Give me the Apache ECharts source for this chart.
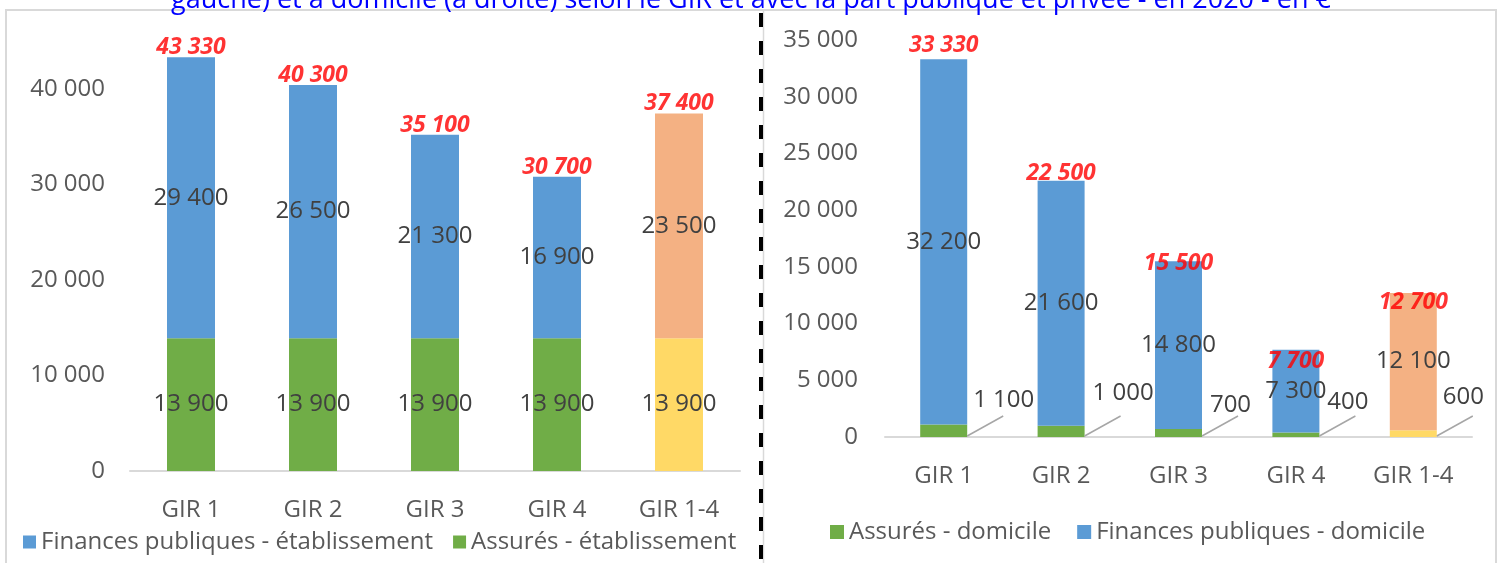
<!DOCTYPE html>
<html>
<head>
<meta charset="utf-8">
<script src="https://cdn.jsdelivr.net/npm/echarts@6/dist/echarts.min.js"></script>
<style>
  html, body { margin: 0; padding: 0; background: #fff; }
  #main { width: 1502px; height: 563px; }
</style>
</head>
<body>
<div id="main"></div>
<script>
// categories (same on both sides)
var categories = ['GIR 1', 'GIR 2', 'GIR 3', 'GIR 4', 'GIR 1-4']

// left : établissement
var etabAssures = [13900, 13900, 13900, 13900, 13900]
var etabPublic = [29400, 26500, 21300, 16900, 23500]
var etabTotal = [43330, 40300, 35100, 30700, 37400]

// right : domicile
var domAssures = [1100, 1000, 700, 400, 600]
var domPublic = [32200, 21600, 14800, 7300, 12100]
var domTotal = [33330, 22500, 15500, 7700, 12700]

var titleText = 'gauche) et à domicile (à droite) selon le GIR et avec la part publique et privée - en 2020 - en €'

var FONT = 'Open Sans'
var BLUE = '#5b9bd5'
var GREEN = '#70ad47'
var ORANGE = '#f4b183'
var YELLOW = '#ffd966'

function fmt(v) {
  return String(v).replace(/\B(?=(\d{3})+(?!\d))/g, ' ')
}

// last category (GIR 1-4) gets its own colours
function colored(values, lastColor) {
  return values.map(function (v, i) {
    if (i == values.length - 1) {
      return { value: v, itemStyle: { color: lastColor } }
    }
    return v
  })
}

var chart = echarts.init(document.getElementById('main'))

var axisLabelStyle = { color: '#595959', fontSize: 24, fontFamily: FONT }
var segLabel = { show: true, position: 'inside', color: '#404040', fontSize: 24, fontFamily: FONT, formatter: function (p) { return fmt(p.value) } }
var totalLabel = { show: true, position: 'top', distance: -2, color: '#ff0000', fontSize: 23, fontWeight: 'bold', fontStyle: 'italic', fontFamily: FONT, formatter: function (p) { return fmt(p.value) } }

// right totals and small labels were moved by hand in the original
var domTotalShift = [-3, 2, 12, 22, 20]
var domLabelShift = [[60, -31], [62, -38], [52, -28], [52, -33], [50, -36]]
var BAR_R = 47

// leader lines for the small "assurés - domicile" values
function renderLeader(params, api) {
  var base = api.coord([api.value(0), 0])
  var x0 = base[0] + BAR_R / 2
  var y0 = base[1] - 1
  return {
    type: 'line',
    shape: { x1: x0, y1: y0, x2: x0 + 36, y2: y0 - 20 },
    style: { stroke: '#a6a6a6', lineWidth: 1.5 }
  }
}

var option = {
  animation: false,
  title: {
    text: titleText,
    left: 'center',
    top: -18,
    textStyle: { color: '#0000ff', fontSize: 27, fontWeight: 'normal', fontFamily: FONT }
  },
  legend: [{
    data: ['Finances publiques - établissement', 'Assurés - établissement'],
    left: 18,
    top: 525,
    icon: 'rect',
    itemWidth: 13,
    itemHeight: 13,
    itemGap: 20,
    textStyle: axisLabelStyle
  }, {
    data: ['Assurés - domicile', 'Finances publiques - domicile'],
    left: 825,
    top: 515,
    icon: 'rect',
    itemWidth: 14,
    itemHeight: 14,
    itemGap: 26,
    textStyle: axisLabelStyle
  }],
  grid: [
    { left: 130, right: 762, top: 41, bottom: 92 },
    { left: 885, right: 30, top: 40, bottom: 126 }
  ],
  xAxis: [0, 1].map(function (g) {
    return {
      type: 'category',
      gridIndex: g,
      data: categories,
      axisTick: { show: false },
      axisLine: { lineStyle: { color: '#d9d9d9', width: 2 } },
      axisLabel: Object.assign({ margin: 27 }, axisLabelStyle)
    }
  }),
  yAxis: [{
    type: 'value',
    gridIndex: 0,
    min: 0,
    max: 45000,
    interval: 10000,
    splitLine: { show: false },
    axisLabel: Object.assign({ margin: 25, showMaxLabel: false, formatter: fmt }, axisLabelStyle)
  }, {
    type: 'value',
    gridIndex: 1,
    min: 0,
    max: 35000,
    interval: 5000,
    splitLine: { show: false },
    axisLabel: Object.assign({ margin: 27, formatter: fmt }, axisLabelStyle)
  }],
  series: [
    {
      name: 'Assurés - établissement',
      type: 'bar',
      stack: 'etab',
      barWidth: 48,
      color: GREEN,
      data: colored(etabAssures, YELLOW),
      label: segLabel
    },
    {
      name: 'Finances publiques - établissement',
      type: 'bar',
      stack: 'etab',
      barWidth: 48,
      color: BLUE,
      data: colored(etabPublic, ORANGE),
      label: segLabel
    },
    {
      type: 'scatter',
      symbolSize: 1,
      itemStyle: { color: 'rgba(0,0,0,0)' },
      silent: true,
      z: 10,
      data: etabTotal,
      label: totalLabel
    },
    {
      name: 'Assurés - domicile',
      type: 'bar',
      stack: 'dom',
      barWidth: BAR_R,
      xAxisIndex: 1,
      yAxisIndex: 1,
      color: GREEN,
      data: colored(domAssures, YELLOW),
      label: segLabel,
      labelLayout: function (p) {
        var s = domLabelShift[p.dataIndex]
        return { dx: s[0], dy: s[1] }
      }
    },
    {
      name: 'Finances publiques - domicile',
      type: 'bar',
      stack: 'dom',
      barWidth: BAR_R,
      xAxisIndex: 1,
      yAxisIndex: 1,
      color: BLUE,
      data: colored(domPublic, ORANGE),
      label: segLabel
    },
    {
      type: 'custom',
      xAxisIndex: 1,
      yAxisIndex: 1,
      silent: true,
      z: 5,
      renderItem: renderLeader,
      data: domAssures.map(function (v, i) { return [i, v] })
    },
    {
      type: 'scatter',
      xAxisIndex: 1,
      yAxisIndex: 1,
      symbolSize: 1,
      itemStyle: { color: 'rgba(0,0,0,0)' },
      silent: true,
      z: 10,
      data: domTotal.map(function (v, i) {
        return { value: v, label: { offset: [0, domTotalShift[i]] } }
      }),
      label: totalLabel
    }
  ],
  graphic: [
    // frame and separator
    { type: 'rect', shape: { x: 6, y: 10, width: 1490, height: 600 }, style: { fill: null, stroke: '#d9d9d9', lineWidth: 2 }, silent: true },
    { type: 'line', shape: { x1: 763.5, y1: 10, x2: 763.5, y2: 563 }, style: { stroke: '#d9d9d9', lineWidth: 1.5 }, silent: true },
    { type: 'line', shape: { x1: 761, y1: 13, x2: 761, y2: 563 }, style: { stroke: '#000', lineWidth: 4, lineDash: [14, 14] }, silent: true, z: 100 }
  ]
}

chart.setOption(option)
</script>
</body>
</html>
